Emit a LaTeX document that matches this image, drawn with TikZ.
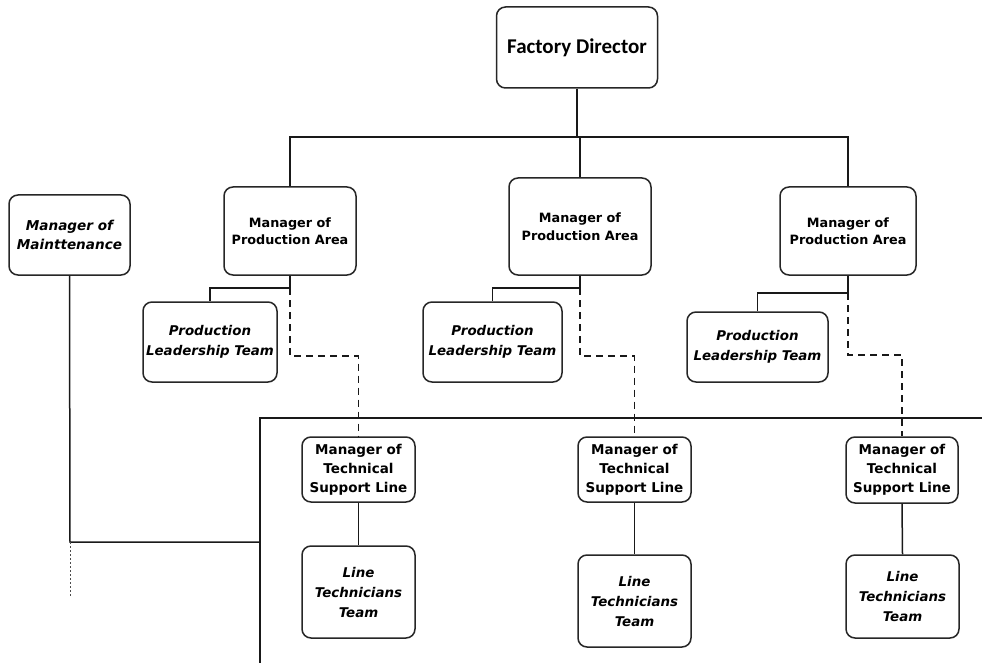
\documentclass[tikz,border=0pt]{standalone}
\usepackage{fontspec}
\setmainfont{DejaVu Sans}
\newfontfamily\fdfont{Carlito}
\usetikzlibrary{positioning}
\tikzset{
  box/.style={draw=black!85, line width=1.5pt, rounded corners=9pt, fill=white, align=center, inner sep=1pt, text=black},
  mgr/.style={box, font=\fontsize{12.8}{17.5}\selectfont\bfseries},
  team/.style={box, font=\fontsize{13.4}{19.5}\selectfont\bfseries\itshape},
  tech/.style={box, font=\fontsize{13.5}{19}\selectfont\bfseries},
  link/.style={draw=black!90, line width=1.5pt},
  dlink/.style={draw=black!90, line width=1.5pt, dash pattern=on 7pt off 5pt},
  dotlink/.style={draw=black!70, line width=1pt, dash pattern=on 1.5pt off 2.5pt}
}
\begin{document}
\begin{tikzpicture}[x=1pt,y=-1pt]
\useasboundingbox (0,0) rectangle (982,663);
% nodes
\node[box, font=\fdfont\fontsize{21}{25}\selectfont\bfseries, minimum width=161pt, minimum height=81pt] (fd) at (577,47.5) {Factory Director};
\node[team, font=\fontsize{13.6}{19.5}\selectfont\bfseries\itshape, minimum width=121pt, minimum height=80pt] (mm) at (69.5,235) {Manager of\\Mainttenance};
\node[mgr, minimum width=132pt, minimum height=88pt] (mpa1) at (290,231) {Manager of\\Production Area};
\node[mgr, minimum width=142pt, minimum height=97pt] (mpa2) at (580,226.5) {Manager of\\Production Area};
\node[mgr, minimum width=136pt, minimum height=88pt] (mpa3) at (848,231) {Manager of\\Production Area};
\node[team, minimum width=134pt, minimum height=80pt] (plt1) at (210,342) {Production\\Leadership Team};
\node[team, minimum width=139pt, minimum height=80pt] (plt2) at (492.5,342) {Production\\Leadership Team};
\node[team, minimum width=141pt, minimum height=70pt] (plt3) at (757.5,347) {Production\\Leadership Team};
\node[tech, minimum width=113pt, minimum height=65pt] (ts1) at (358.5,469.5) {Manager of\\Technical\\Support Line};
\node[tech, minimum width=113pt, minimum height=65pt] (ts2) at (634.5,469.5) {Manager of\\Technical\\Support Line};
\node[tech, minimum width=112pt, minimum height=66pt] (ts3) at (902,470) {Manager of\\Technical\\Support Line};
\node[team, font=\fontsize{13.4}{20}\selectfont\bfseries\itshape, minimum width=113pt, minimum height=92pt] (lt1) at (358.5,592) {Line\\Technicians\\Team};
\node[team, font=\fontsize{13.4}{20}\selectfont\bfseries\itshape, minimum width=113pt, minimum height=92pt] (lt2) at (634.5,601) {Line\\Technicians\\Team};
\node[team, font=\fontsize{13.4}{20}\selectfont\bfseries\itshape, minimum width=113pt, minimum height=83pt] (lt3) at (902.5,596.5) {Line\\Technicians\\Team};
% coordinates
\coordinate (busL) at (290,137);
\coordinate (busR) at (848,137);
\coordinate (j1) at (290,288);
\coordinate (j2) at (580,288);
\coordinate (j3) at (848,293);
\coordinate (d1) at (290,356);
\coordinate (d2) at (580,356);
\coordinate (d3) at (848,355);
\coordinate (mmc) at (70,542);
\coordinate (mmd) at (70,598);
\coordinate (vt) at (260,418);
\coordinate (vb) at (260,663);
\coordinate (hr) at (982,418);
\coordinate (vj) at (260,542);
% connectors
\draw[link] (fd.south) -- (fd.south |- busL);
\draw[link] (mpa1.north) -- (busL) -- (busR) -- (mpa3.north);
\draw[link] (mpa2.north) -- (mpa2.north |- busL);
\draw[link] (mpa1.south) -- (j1) -| (plt1.north);
\draw[link] (mpa2.south) -- (j2) -| (plt2.north);
\draw[link] (mpa3.south) -- (j3) -| (plt3.north);
\draw[dlink] (j1) -- (d1) -| (ts1.north);
\draw[dlink] (j2) -- (d2) -| (ts2.north);
\draw[dlink] (j3) -- (d3) -| (ts3.north);
\draw[link] (ts1.south) -- (lt1.north);
\draw[link] (ts2.south) -- (lt2.north);
\draw[link] (ts3.south) -- (lt3.north);
\draw[link] (mm.south) -- (mmc) -- (vj);
\draw[dotlink] (mmc) -- (mmd);
\draw[link] (vb) -- (vt) -- (hr);
\end{tikzpicture}
\end{document}
